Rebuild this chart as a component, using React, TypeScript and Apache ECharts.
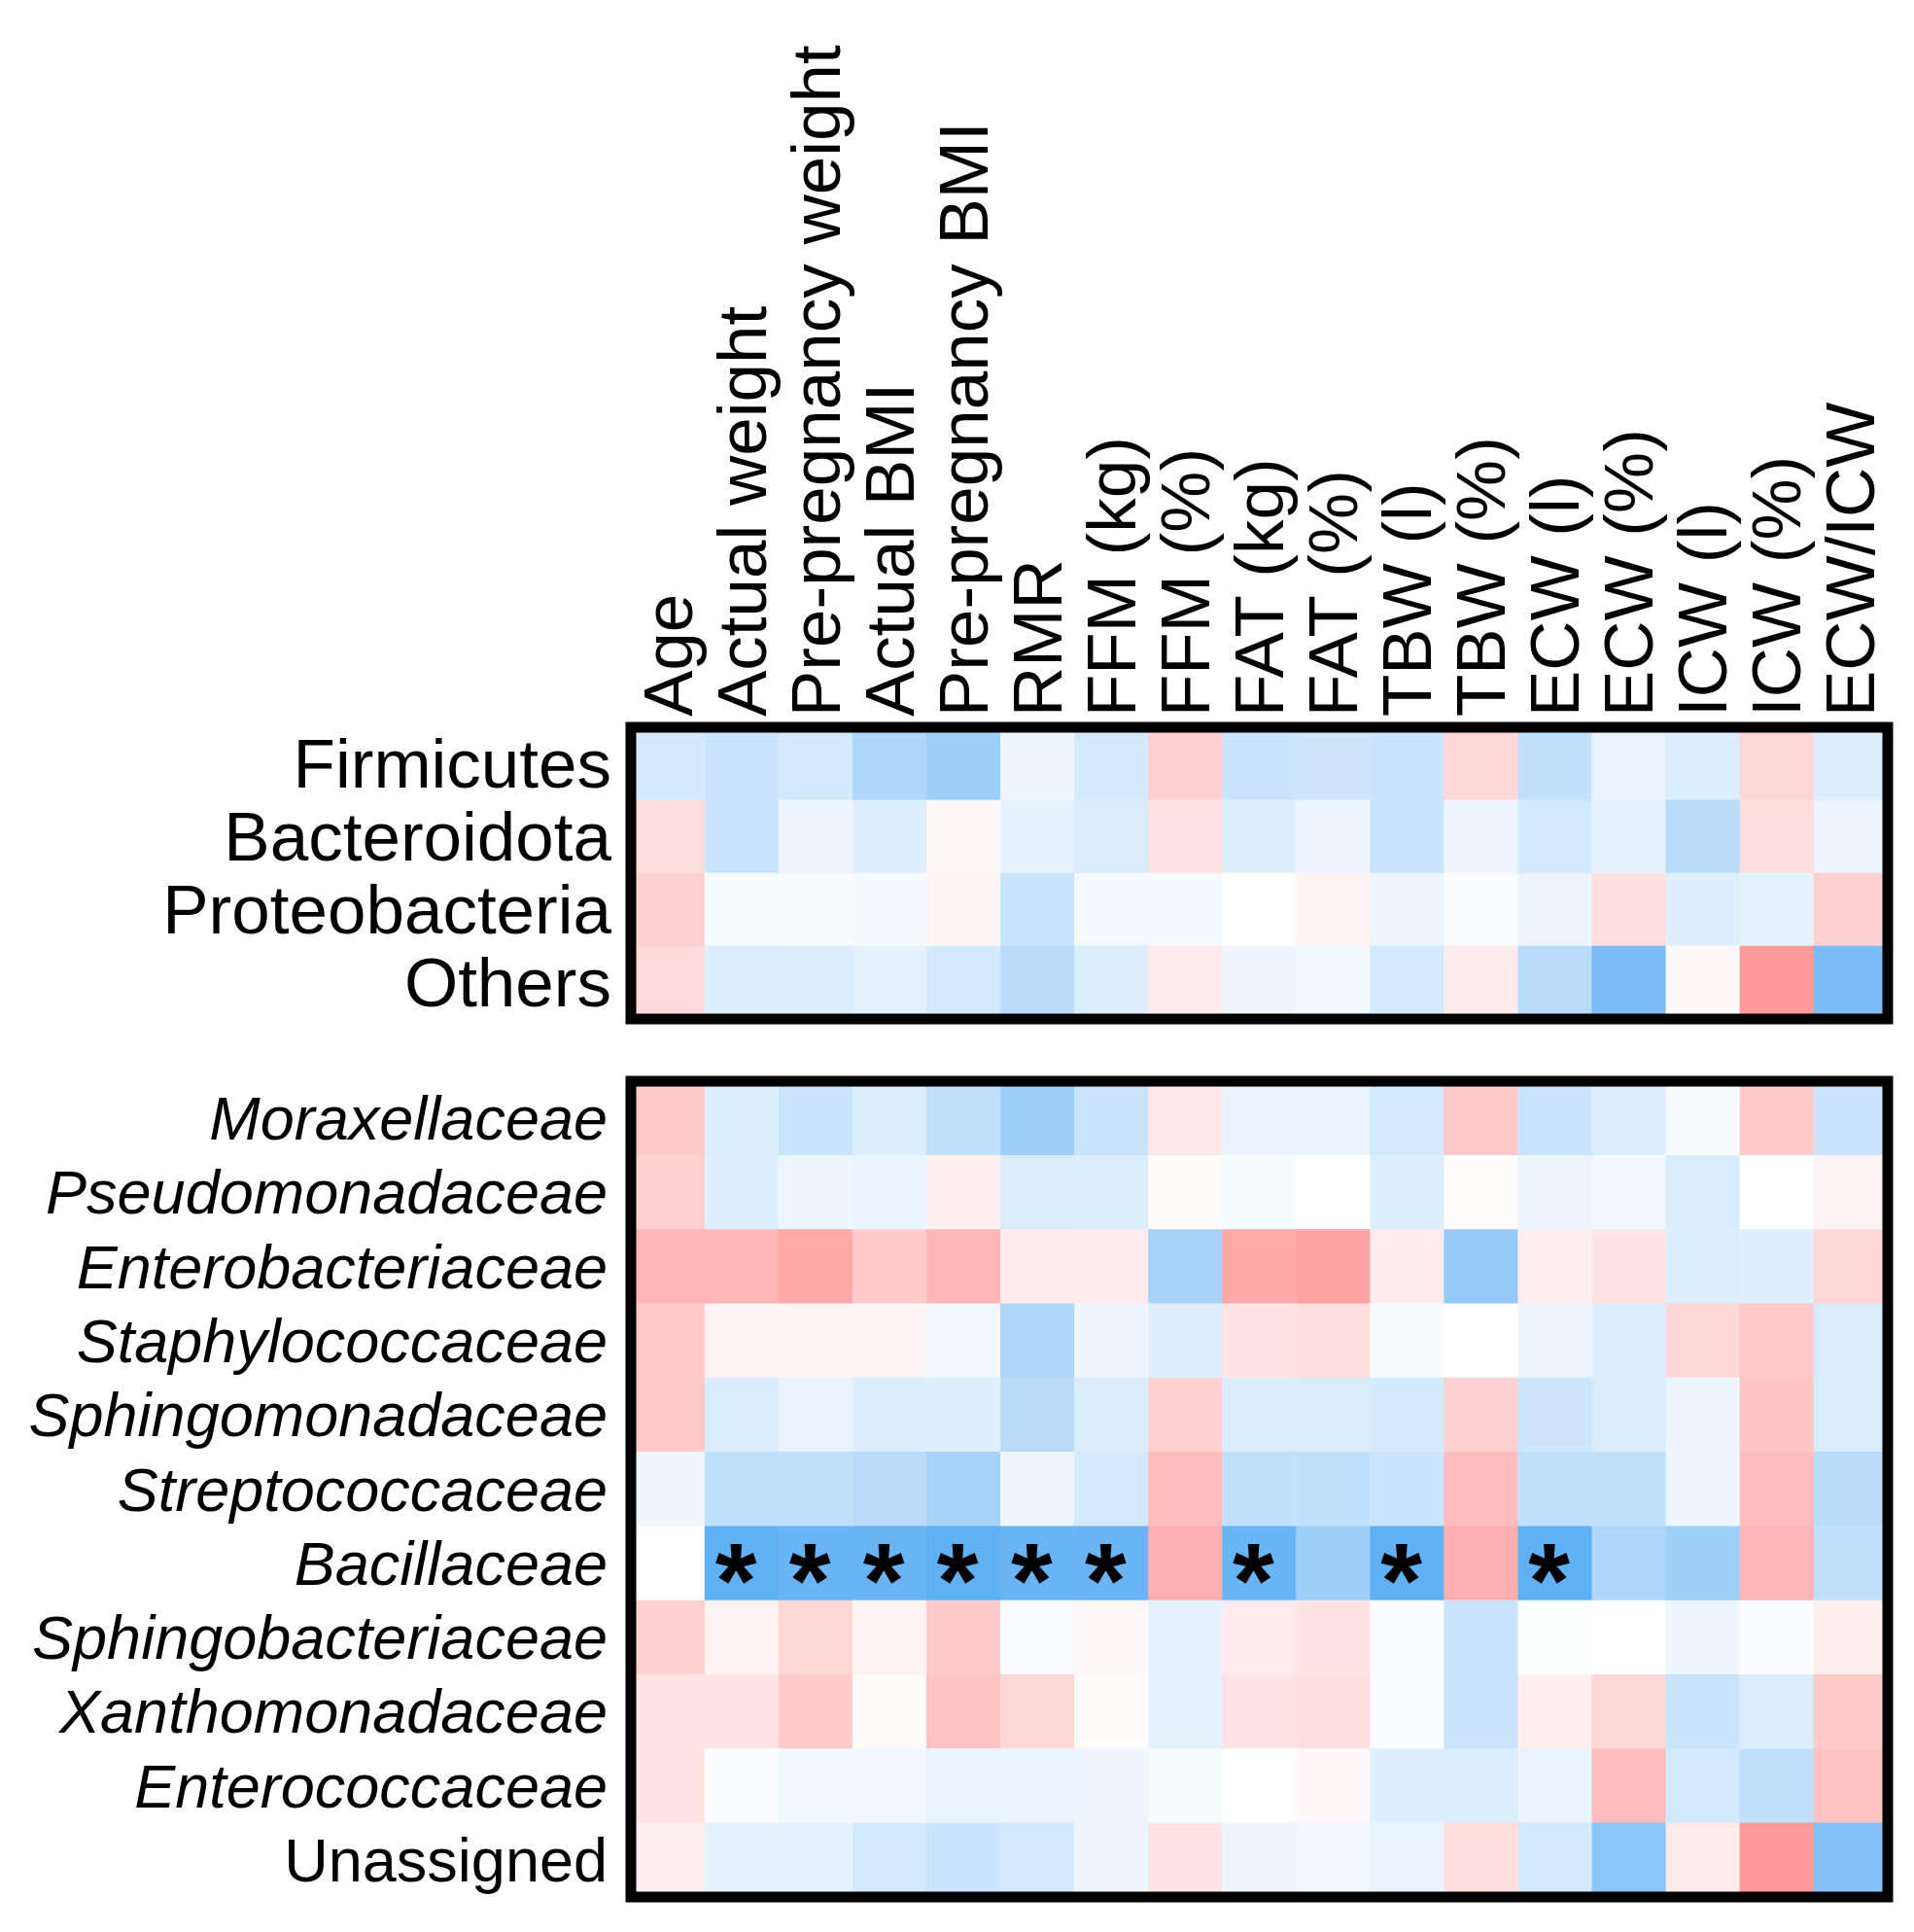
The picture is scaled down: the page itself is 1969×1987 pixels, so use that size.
import React, { useEffect, useRef } from "react";
import * as echarts from "echarts";

const columns = [
  "Age", "Actual weight", "Pre-pregnancy weight", "Actual BMI", "Pre-pregnancy BMI",
  "RMR", "FFM (kg)", "FFM (%)", "FAT (kg)", "FAT (%)", "TBW (l)", "TBW (%)",
  "ECW (l)", "ECW (%)", "ICW (l)", "ICW (%)", "ECW/ICW",
];

const phylaRows = ["Firmicutes", "Bacteroidota", "Proteobacteria", "Others"];
const phylaValues = [
  [-0.25, -0.3, -0.25, -0.45, -0.55, -0.1, -0.25, 0.35, -0.3, -0.28, -0.3, 0.3, -0.35, -0.12, -0.2, 0.3, -0.2],
  [0.25, -0.3, -0.1, -0.18, 0.05, -0.15, -0.22, 0.22, -0.18, -0.1, -0.3, -0.1, -0.25, -0.15, -0.4, 0.25, -0.1],
  [0.35, -0.05, -0.04, -0.06, 0.08, -0.3, -0.06, -0.06, 0.0, 0.1, -0.1, -0.03, -0.1, 0.25, -0.18, -0.15, 0.35],
  [0.28, -0.2, -0.2, -0.15, -0.25, -0.4, -0.2, 0.15, -0.1, -0.08, -0.25, 0.15, -0.4, -0.75, 0.05, 0.75, -0.75],
];

const familyRows = [
  "Moraxellaceae", "Pseudomonadaceae", "Enterobacteriaceae", "Staphylococcaceae",
  "Sphingomonadaceae", "Streptococcaceae", "Bacillaceae", "Sphingobacteriaceae",
  "Xanthomonadaceae", "Enterococcaceae", "Unassigned",
];
const familyValues = [
  [0.4, -0.2, -0.3, -0.2, -0.35, -0.55, -0.3, 0.18, -0.12, -0.12, -0.25, 0.4, -0.3, -0.2, -0.05, 0.4, -0.3],
  [0.35, -0.18, -0.1, -0.12, 0.12, -0.22, -0.2, 0.03, -0.05, 0.0, -0.2, 0.02, -0.1, -0.08, -0.22, 0.0, 0.08],
  [0.55, 0.55, 0.65, 0.4, 0.55, 0.15, 0.15, -0.5, 0.65, 0.7, 0.15, -0.6, 0.12, 0.2, -0.2, -0.18, 0.3],
  [0.4, 0.1, 0.08, 0.08, -0.08, -0.45, -0.1, -0.18, 0.2, 0.25, -0.05, 0.0, -0.1, -0.2, 0.3, 0.4, -0.22],
  [0.4, -0.22, -0.12, -0.2, -0.18, -0.4, -0.2, 0.35, -0.22, -0.22, -0.25, 0.35, -0.28, -0.22, -0.1, 0.45, -0.22],
  [-0.1, -0.35, -0.35, -0.4, -0.5, -0.1, -0.25, 0.5, -0.35, -0.35, -0.3, 0.5, -0.35, -0.35, -0.1, 0.5, -0.4],
  [0.0, -0.9, -0.85, -0.85, -0.9, -0.85, -0.85, 0.6, -0.85, -0.55, -0.9, 0.6, -0.9, -0.45, -0.55, 0.55, -0.35],
  [0.35, 0.1, 0.3, 0.1, 0.4, -0.03, 0.05, -0.15, 0.15, 0.2, -0.03, -0.3, -0.02, 0.0, -0.1, -0.03, 0.12],
  [0.2, 0.2, 0.4, 0.03, 0.45, 0.3, 0.03, -0.15, 0.22, 0.25, -0.03, -0.3, 0.12, 0.3, -0.3, -0.2, 0.4],
  [0.2, -0.03, -0.08, -0.08, -0.12, -0.12, -0.1, -0.05, 0.0, 0.05, -0.18, -0.2, -0.12, 0.5, -0.25, -0.35, 0.45],
  [0.12, -0.15, -0.15, -0.25, -0.3, -0.25, -0.1, 0.2, -0.1, -0.08, -0.12, 0.25, -0.25, -0.65, 0.15, 0.75, -0.7],
];

// significant cells in the family panel: [row, column]
const familySignificant = [
  [6, 1], [6, 2], [6, 3], [6, 4], [6, 5], [6, 6], [6, 8], [6, 10], [6, 12],
];

const FONT = "'Liberation Sans', Arial, Helvetica, sans-serif";
const G1 = { left: 649, top: 748, width: 1293, height: 300 };
const G2 = { left: 649, top: 1112, width: 1293, height: 839 };
const BORDER = 11;

function buildData(values: number[][], sig: number[][]) {
  const out: any[] = [];
  values.forEach((row, r) => {
    row.forEach((v, c) => {
      const isSig = sig.some(([sr, sc]) => sr === r && sc === c);
      out.push({
        value: [c, r, v],
        label: isSig
          ? {
              show: true,
              formatter: "*",
              fontSize: 110,
              fontWeight: "bold",
              fontFamily: FONT,
              color: "#000",
              offset: [-6, 17],
            }
          : { show: false },
      });
    });
  });
  return out;
}

export default function App() {
  const ref = useRef<HTMLDivElement>(null);
  useEffect(() => {
    if (!ref.current) return;
    const chart = echarts.init(ref.current, undefined, { renderer: "svg" });
    const option: any = {
      animation: false,
      backgroundColor: "#ffffff",
      grid: [
        { ...G1, containLabel: false },
        { ...G2, containLabel: false },
      ],
      xAxis: [
        {
          type: "category",
          gridIndex: 0,
          data: columns,
          position: "top",
          axisLine: { show: false },
          axisTick: { show: false },
          splitLine: { show: false },
          axisLabel: {
            interval: 0,
            rotate: -90,
            margin: 11,
            fontSize: 71,
            fontFamily: FONT,
            color: "#000",
          },
        },
        {
          type: "category",
          gridIndex: 1,
          data: columns,
          axisLine: { show: false },
          axisTick: { show: false },
          axisLabel: { show: false },
        },
      ],
      yAxis: [
        {
          type: "category",
          gridIndex: 0,
          data: phylaRows,
          inverse: true,
          axisLine: { show: false },
          axisTick: { show: false },
          axisLabel: {
            interval: 0,
            margin: 20,
            fontSize: 71,
            fontFamily: FONT,
            color: "#000",
          },
        },
        {
          type: "category",
          gridIndex: 1,
          data: familyRows,
          inverse: true,
          axisLine: { show: false },
          axisTick: { show: false },
          axisLabel: {
            interval: 0,
            margin: 24,
            fontSize: 63,
            fontFamily: FONT,
            color: "#000",
            formatter: (name: string) =>
              name === "Unassigned" ? `{n|${name}}` : `{i|${name}}`,
            rich: {
              i: { fontStyle: "italic", fontSize: 63, fontFamily: FONT, color: "#000" },
              n: { fontStyle: "normal", fontSize: 63, fontFamily: FONT, color: "#000" },
            },
          },
        },
      ],
      visualMap: {
        show: false,
        min: -1,
        max: 1,
        seriesIndex: [0, 1],
        dimension: 2,
        inRange: { color: ["#4ea7f3", "#ffffff", "#ff7a7a"] },
      },
      series: [
        {
          type: "heatmap",
          xAxisIndex: 0,
          yAxisIndex: 0,
          data: buildData(phylaValues, []),
          itemStyle: { borderWidth: 0 },
        },
        {
          type: "heatmap",
          xAxisIndex: 1,
          yAxisIndex: 1,
          data: buildData(familyValues, familySignificant),
          itemStyle: { borderWidth: 0 },
        },
      ],
      graphic: [
        {
          type: "rect",
          z: 100,
          shape: { x: G1.left, y: G1.top, width: G1.width, height: G1.height },
          style: { fill: "none", stroke: "#000", lineWidth: BORDER },
        },
        {
          type: "rect",
          z: 100,
          shape: { x: G2.left, y: G2.top, width: G2.width, height: G2.height },
          style: { fill: "none", stroke: "#000", lineWidth: BORDER },
        },
      ],
    };
    chart.setOption(option);
    return () => chart.dispose();
  }, []);
  return (
    <div
      ref={ref}
      style={{ position: "fixed", left: 0, top: 0, width: "1969px", height: "1987px" }}
    />
  );
}
